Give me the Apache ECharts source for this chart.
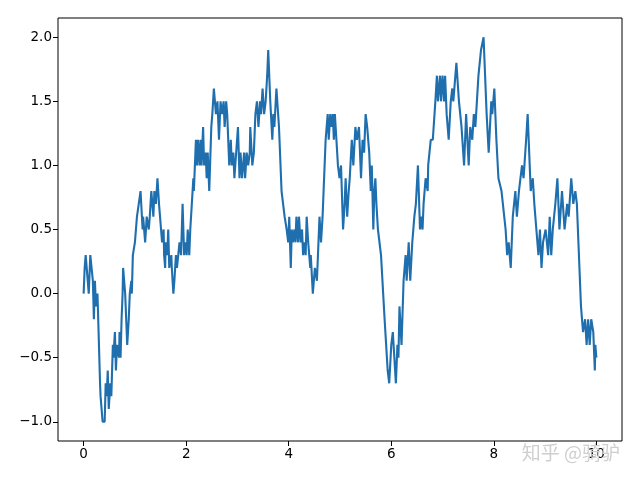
<!DOCTYPE html>
<html>
<head>
<meta charset="utf-8">
<script src="https://cdn.jsdelivr.net/npm/echarts@6/dist/echarts.min.js"></script>
<style>html,body{margin:0;padding:0;background:#fff}#c{width:640px;height:480px}</style>
</head>
<body>
<div id="c"></div>
<script>
const xs = [0.00,0.02,0.04,0.06,0.08,0.10,0.13,0.16,0.18,0.20,0.22,0.24,0.27,0.32,0.33,0.37,0.41,0.43,0.45,0.47,0.49,0.52,0.54,0.57,0.58,0.61,0.63,0.65,0.69,0.70,0.72,0.74,0.76,0.77,0.81,0.82,0.85,0.88,0.90,0.93,0.94,0.96,1.00,1.02,1.04,1.11,1.15,1.16,1.20,1.23,1.27,1.29,1.32,1.36,1.38,1.41,1.44,1.47,1.51,1.53,1.56,1.57,1.59,1.60,1.63,1.65,1.67,1.71,1.72,1.75,1.77,1.80,1.82,1.87,1.90,1.93,1.96,1.99,2.01,2.03,2.06,2.08,2.11,2.14,2.15,2.19,2.21,2.23,2.26,2.28,2.30,2.33,2.35,2.38,2.40,2.42,2.45,2.49,2.51,2.54,2.58,2.61,2.64,2.67,2.70,2.73,2.75,2.78,2.80,2.84,2.87,2.89,2.92,2.94,3.01,3.04,3.06,3.09,3.13,3.15,3.18,3.21,3.24,3.25,3.29,3.32,3.35,3.38,3.41,3.44,3.46,3.49,3.52,3.55,3.58,3.60,3.64,3.68,3.70,3.72,3.76,3.79,3.81,3.86,3.89,3.92,3.96,3.99,4.01,4.04,4.06,4.08,4.11,4.13,4.15,4.18,4.20,4.23,4.26,4.28,4.31,4.33,4.35,4.38,4.42,4.43,4.47,4.51,4.55,4.58,4.60,4.63,4.66,4.68,4.72,4.76,4.78,4.81,4.83,4.86,4.88,4.90,4.93,4.96,4.99,5.02,5.06,5.09,5.11,5.14,5.17,5.19,5.23,5.26,5.30,5.33,5.37,5.41,5.44,5.47,5.50,5.53,5.57,5.60,5.62,5.65,5.67,5.69,5.71,5.74,5.80,5.87,5.93,5.96,6.00,6.03,6.06,6.09,6.12,6.14,6.16,6.20,6.24,6.28,6.30,6.34,6.37,6.41,6.45,6.48,6.52,6.56,6.58,6.61,6.63,6.67,6.71,6.72,6.77,6.81,6.86,6.89,6.91,6.95,6.97,7.00,7.03,7.05,7.08,7.12,7.16,7.19,7.21,7.27,7.32,7.37,7.42,7.46,7.51,7.54,7.58,7.61,7.64,7.70,7.75,7.80,7.83,7.86,7.90,7.95,7.97,8.01,8.05,8.09,8.15,8.23,8.26,8.29,8.33,8.37,8.42,8.45,8.49,8.52,8.55,8.58,8.63,8.66,8.69,8.72,8.76,8.79,8.83,8.87,8.90,8.93,8.96,9.01,9.06,9.09,9.12,9.15,9.20,9.24,9.28,9.33,9.38,9.43,9.46,9.51,9.55,9.59,9.62,9.67,9.70,9.74,9.78,9.81,9.84,9.87,9.90,9.94,9.97,9.98,10.00];
const ys = [0.0,0.2,0.3,0.3,0.1,0.0,0.3,0.3,0.1,-0.2,0.1,-0.1,0.0,-0.7,-0.8,-1.0,-1.0,-0.7,-0.8,-0.6,-0.9,-0.7,-0.8,-0.4,-0.5,-0.3,-0.6,-0.4,-0.5,-0.3,-0.5,-0.2,0.0,0.2,0.0,-0.1,-0.4,-0.2,0.0,0.1,0.0,0.3,0.4,0.5,0.6,0.8,0.5,0.6,0.4,0.6,0.5,0.6,0.8,0.6,0.8,0.7,0.9,0.7,0.5,0.4,0.5,0.3,0.2,0.4,0.3,0.5,0.2,0.3,0.2,0.0,0.1,0.3,0.2,0.4,0.3,0.7,0.3,0.4,0.3,0.5,0.3,0.5,0.7,0.9,0.8,1.2,1.0,1.2,1.0,1.2,1.0,1.3,1.0,1.1,0.9,1.1,0.8,1.3,1.4,1.6,1.4,1.5,1.2,1.5,1.4,1.5,1.3,1.5,1.4,1.0,1.2,1.0,1.1,0.9,1.3,0.9,1.1,0.9,1.1,0.9,1.1,1.0,1.1,1.3,1.0,1.1,1.4,1.5,1.3,1.5,1.4,1.6,1.4,1.5,1.7,1.9,1.5,1.2,1.4,1.3,1.6,1.6,1.3,0.8,0.7,0.6,0.5,0.4,0.6,0.2,0.5,0.4,0.5,0.4,0.6,0.4,0.6,0.4,0.5,0.3,0.4,0.3,0.6,0.4,0.2,0.3,0.0,0.2,0.1,0.4,0.6,0.4,0.6,0.8,1.2,1.4,1.2,1.4,1.3,1.4,1.2,1.4,1.2,1.0,0.9,1.0,0.5,0.7,0.9,0.6,0.8,0.9,1.2,1.0,1.3,1.2,1.3,0.9,1.2,1.1,1.4,1.3,1.1,0.8,1.0,0.5,0.8,0.9,0.7,0.5,0.3,-0.2,-0.6,-0.7,-0.4,-0.3,-0.5,-0.7,-0.4,-0.5,-0.1,-0.4,0.1,0.3,0.1,0.4,0.1,0.4,0.6,0.7,1.0,0.5,0.6,0.5,0.7,0.9,0.8,1.0,1.2,1.2,1.5,1.7,1.5,1.7,1.5,1.7,1.5,1.7,1.4,1.2,1.5,1.6,1.5,1.8,1.5,1.3,1.0,1.4,1.0,1.3,1.2,1.4,1.3,1.7,1.9,2.0,1.7,1.4,1.1,1.5,1.4,1.6,1.2,0.9,0.8,0.5,0.3,0.4,0.2,0.6,0.8,0.6,0.8,0.9,1.0,0.9,1.2,1.4,1.1,0.8,0.9,0.7,0.5,0.3,0.5,0.2,0.4,0.5,0.3,0.6,0.3,0.5,0.7,0.9,0.5,0.8,0.5,0.7,0.6,0.9,0.7,0.8,0.7,0.2,-0.1,-0.3,-0.2,-0.4,-0.2,-0.4,-0.2,-0.3,-0.6,-0.4,-0.5];
const xTicks = [0,2,4,6,8,10];
const yTicks = [-1.0,-0.5,0.0,0.5,1.0,1.5,2.0];
const watermark = '知乎 @骑驴';

const chart = echarts.init(document.getElementById('c'), null, {renderer:'canvas'});
const fontFamily = 'DejaVu Sans';
chart.setOption({
  animation: false,
  backgroundColor: '#ffffff',
  grid: {left: 58, right: 18, top: 18, bottom: 39, show: true, borderColor: '#000', borderWidth: 1, backgroundColor: 'transparent'},
  xAxis: {
    type: 'value', min: -0.5, max: 10.5,
    axisLine: {show: false, onZero: false},
    splitLine: {show: false},
    axisTick: {show: true, length: 5, inside: false, lineStyle: {color: '#000', width: 1}, customValues: xTicks},
    axisLabel: {show: true, color: '#000', fontFamily, fontSize: 13.5, margin: 6, customValues: xTicks, formatter: v => String(v)}
  },
  yAxis: {
    type: 'value', min: -1.15, max: 2.15,
    axisLine: {show: false, onZero: false},
    splitLine: {show: false},
    axisTick: {show: true, length: 5, inside: false, lineStyle: {color: '#000', width: 1}, customValues: yTicks},
    axisLabel: {show: true, color: '#000', fontFamily, fontSize: 13.5, margin: 6, customValues: yTicks, formatter: v => v.toFixed(1).replace('-', '\u2212')}
  },
  series: [{
    type: 'line', data: xs.map((x, i) => [x, ys[i]]),
    showSymbol: false, symbol: 'none',
    lineStyle: {color: '#1f6fae', width: 2.1},
    clip: true
  }],
  graphic: [{
    type: 'text', right: 20, top: 443,
    style: {text: watermark, fill: '#cfcfcf', font: '19px "Noto Sans CJK SC"'},
    z: 100
  }]
});
</script>
</body>
</html>
